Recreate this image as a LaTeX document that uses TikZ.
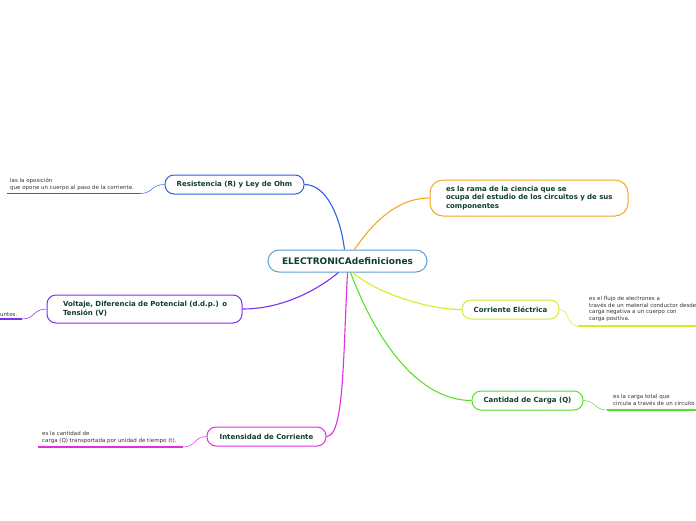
\documentclass[tikz,border=0pt]{standalone}
\usepackage{fontspec}
\setmainfont{DejaVu Sans}
\usetikzlibrary{calc}
\definecolor{tcol}{HTML}{0E3D2E}
\definecolor{ncol}{HTML}{333333}
\definecolor{cblue}{HTML}{5B9BD5}
\definecolor{rblue}{HTML}{2B5FE6}
\definecolor{orng}{HTML}{F5A623}
\definecolor{ylw}{HTML}{D4EC2A}
\definecolor{grn}{HTML}{55E02A}
\definecolor{mag}{HTML}{E02EE0}
\definecolor{prp}{HTML}{7B2FF0}
\tikzset{
  topic/.style={draw, line width=1pt, fill=white, rounded corners=9pt, inner sep=0pt,
    font=\bfseries\fontsize{7}{8.5}\selectfont, text=tcol},
  note/.style={font=\fontsize{5.5}{6.8}\selectfont, text=ncol, align=left, inner sep=0pt},
  conn/.style={line width=1.1pt},
  uline/.style={line width=1.6pt},
  subc/.style={line width=0.5pt}
}
\begin{document}
\begin{tikzpicture}[x=1pt,y=-1pt]
\useasboundingbox (0,0) rectangle (696,520);
% central
\node[topic, draw=cblue, minimum width=159pt, minimum height=22pt, rounded corners=11pt,
  font=\bfseries\fontsize{9}{10}\selectfont] (c) at (347.5,261) {ELECTRONICAdefiniciones};
% topics
\node[topic, draw=rblue, minimum width=139pt, minimum height=19pt] (rn) at (234.5,184.5) {Resistencia (R) y Ley de Ohm};
\node[topic, draw=prp, minimum width=195pt, minimum height=28pt, text width=163pt, align=left] (vn) at (144.5,309) {\mbox{Voltaje, Diferencia de Potencial (d.d.p.) o}\\Tensión (V)};
\node[topic, draw=mag, minimum width=119pt, minimum height=19pt] (in) at (266.5,436.5) {Intensidad de Corriente};
\node[topic, draw=orng, minimum width=198pt, minimum height=36pt, rounded corners=13pt, text width=166pt, align=left] (on) at (529,198) {\mbox{es la rama de la ciencia que se}\\\mbox{ocupa del estudio de los circuitos y de sus}\\componentes};
\node[topic, draw=ylw, minimum width=97pt, minimum height=19pt] (ce) at (510.5,309.5) {Corriente Eléctrica};
\node[topic, draw=grn, minimum width=111pt, minimum height=19pt] (qn) at (527.5,400.5) {Cantidad de Carga (Q)};
% main connectors
\draw[conn, rblue] ($(c.north)+(-3,0)$) .. controls (340,215) and (326,184.5) .. (rn.east);
\draw[conn, orng] ($(c.north)+(7,0)$) .. controls (380,212) and (405,198) .. (on.west);
\draw[conn, ylw] ($(c.south)+(5,0)$) .. controls (380,295) and (430,309.5) .. (ce.west);
\draw[conn, grn] ($(c.south)+(3,0)$) .. controls (378,345) and (420,400.5) .. (qn.west);
\draw[conn, mag] ($(c.south)+(0,0)$) .. controls (343,360) and (344,436.5) .. (in.east);
\draw[conn, prp] ($(c.south)+(-9,0)$) .. controls (315,292) and (280,309) .. (vn.east);
% notes
\node[note, anchor=north west] (rt) at (10,178) {las la oposición\\que opone un cuerpo al paso de la corriente.};
\coordinate (r0) at (7,193.5); \coordinate (r1) at (140,193.5);
\draw[uline, rblue] (r0) -- (r1);
\draw[subc, rblue] (r1) .. controls (153,193.5) and (151,184.5) .. (rn.west);

\node[note, anchor=south east] (vt) at (17.5,316.5) {untos.};
\coordinate (v0) at (0,319); \coordinate (v1) at (22,319);
\draw[uline, prp] (v0) -- (v1);
\draw[subc, prp] (v1) .. controls (35,319) and (33,309) .. (vn.west);

\node[note, anchor=north west] (it) at (42,431) {es la cantidad de\\carga (Q) transportada por unidad de tiempo (t).};
\coordinate (i0) at (38,447); \coordinate (i1) at (183,447);
\draw[uline, mag] (i0) -- (i1);
\draw[subc, mag] (i1) .. controls (196,447) and (194,436.5) .. (in.west);

\node[note, anchor=north west] (ct) at (589,296) {es el flujo de electrones a\\través de un material conductor desde\\carga negativa a un cuerpo con\\carga positiva.};
\coordinate (e0) at (578,326); \coordinate (e1) at (696,326);
\draw[uline, ylw] (e0) -- (e1);
\draw[subc, ylw] (ce.east) .. controls (570,309.5) and (566,326) .. (e0);

\node[note, anchor=north west] (qt) at (613,394) {es la carga total que\\circula a través de un circuito};
\coordinate (q0) at (607,410); \coordinate (q1) at (696,410);
\draw[uline, grn] (q0) -- (q1);
\draw[subc, grn] (qn.east) .. controls (596,400.5) and (594,410) .. (q0);
\end{tikzpicture}
\end{document}
